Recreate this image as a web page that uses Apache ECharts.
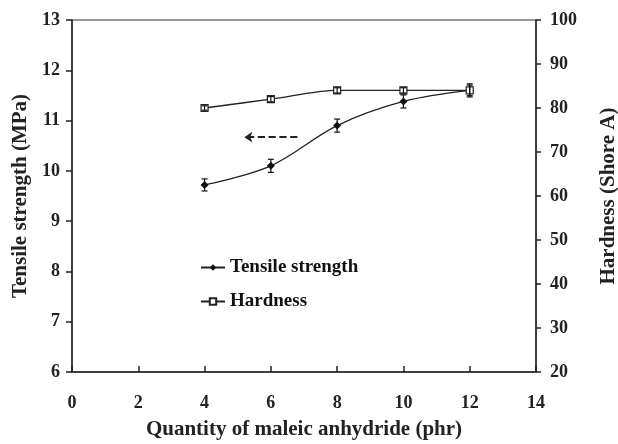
<!DOCTYPE html>
<html><head><meta charset="utf-8">
<script src="https://cdn.jsdelivr.net/npm/echarts@6/dist/echarts.min.js"></script>
<style>html,body{margin:0;padding:0;background:#fff}#c{width:618px;height:444px}</style>
</head><body><div id="c"></div>
<script>
var quantity = [4, 6, 8, 10, 12];
var tensile = [9.72, 10.1, 10.9, 11.38, 11.6];
var tensileErr = [0.12, 0.13, 0.13, 0.13, 0.13];
var hardness = [80, 82, 84, 84, 84];
var hardnessErr = [0.5, 0.6, 0.6, 0.6, 1.2];
var arrowFrom = [6.8, 10.67];
var arrowTo = [5.2, 10.67];

var font = 'Liberation Serif';
function pairs(xs, ys){ return xs.map(function(x,i){return [x, ys[i]];}); }
function errData(xs, ys, es){ return xs.map(function(x,i){return [x, ys[i]-es[i], ys[i]+es[i]];}); }
function errItem(params, api){
  var x = api.value(0);
  var lo = api.coord([x, api.value(1)]);
  var hi = api.coord([x, api.value(2)]);
  var w = 3;
  var st = {stroke:'#111', lineWidth:1.2};
  return {type:'group', children:[
    {type:'line', shape:{x1:lo[0],y1:lo[1],x2:hi[0],y2:hi[1]}, style:st},
    {type:'line', shape:{x1:lo[0]-w,y1:lo[1],x2:lo[0]+w,y2:lo[1]}, style:st},
    {type:'line', shape:{x1:hi[0]-w,y1:hi[1],x2:hi[0]+w,y2:hi[1]}, style:st}
  ]};
}
var lbl = {color:'#222', fontFamily:font, fontWeight:'bold', fontSize:18};
var ttl = {color:'#222', fontFamily:font, fontWeight:'bold', fontSize:21};
var chart = echarts.init(document.getElementById('c'));
chart.setOption({
  animation:false,
  backgroundColor:'#fff',
  grid:{left:72, right:82, top:20, bottom:72, outerBoundsMode:'none', containLabel:false,
        show:true, borderColor:'#777', borderWidth:1.5},
  legend:{
    left:195, top:253, orient:'vertical', itemGap:15, itemWidth:24, itemHeight:8,
    data:['Tensile strength','Hardness'],
    textStyle:{color:'#111', fontFamily:font, fontWeight:'bold', fontSize:19}
  },
  xAxis:{type:'value', min:0, max:14, interval:2,
    name:'Quantity of maleic anhydride (phr)', nameLocation:'middle', nameGap:47,
    nameTextStyle:ttl,
    axisLine:{lineStyle:{color:'#222', width:1.5}},
    axisTick:{inside:true, length:6, lineStyle:{color:'#222', width:1.5}},
    axisLabel:Object.assign({margin:22}, lbl),
    splitLine:{show:false}},
  yAxis:[
    {type:'value', min:6, max:13, interval:1, position:'left',
     name:'Tensile strength (MPa)', nameLocation:'middle', nameGap:40, nameRotate:90,
     nameTextStyle:ttl,
     axisLine:{show:true, lineStyle:{color:'#222', width:1.5}},
     axisTick:{show:true, length:6, lineStyle:{color:'#222', width:1.5}},
     axisLabel:Object.assign({margin:12}, lbl),
     splitLine:{show:false}},
    {type:'value', min:20, max:100, interval:10, position:'right',
     name:'Hardness (Shore A)', nameLocation:'middle', nameGap:62, nameRotate:90,
     nameTextStyle:ttl,
     axisLine:{show:true, lineStyle:{color:'#222', width:1.5}},
     axisTick:{show:true, length:5, lineStyle:{color:'#222', width:1.5}},
     axisLabel:Object.assign({margin:14}, lbl),
     splitLine:{show:false}}
  ],
  series:[
    {name:'Tensile strength', type:'line', yAxisIndex:0, data:pairs(quantity, tensile),
     smooth:0.35, symbol:'diamond', symbolSize:8,
     lineStyle:{color:'#222', width:1.3}, itemStyle:{color:'#111'},
     markLine:{silent:true, symbol:['none','arrow'], symbolSize:[8,8], label:{show:false},
       lineStyle:{color:'#222', type:'dashed', width:1.8},
       data:[[{coord:arrowFrom},{coord:arrowTo}]]}},
    {name:'Hardness', type:'line', yAxisIndex:1, data:pairs(quantity, hardness),
     smooth:0.3, symbol:'rect', symbolSize:7,
     lineStyle:{color:'#222', width:1.3}, itemStyle:{color:'#fff', borderColor:'#222', borderWidth:1.2}},
    {type:'custom', yAxisIndex:0, data:errData(quantity, tensile, tensileErr), renderItem:errItem, z:5},
    {type:'custom', yAxisIndex:1, data:errData(quantity, hardness, hardnessErr), renderItem:errItem, z:5}
  ]
});
</script></body></html>
